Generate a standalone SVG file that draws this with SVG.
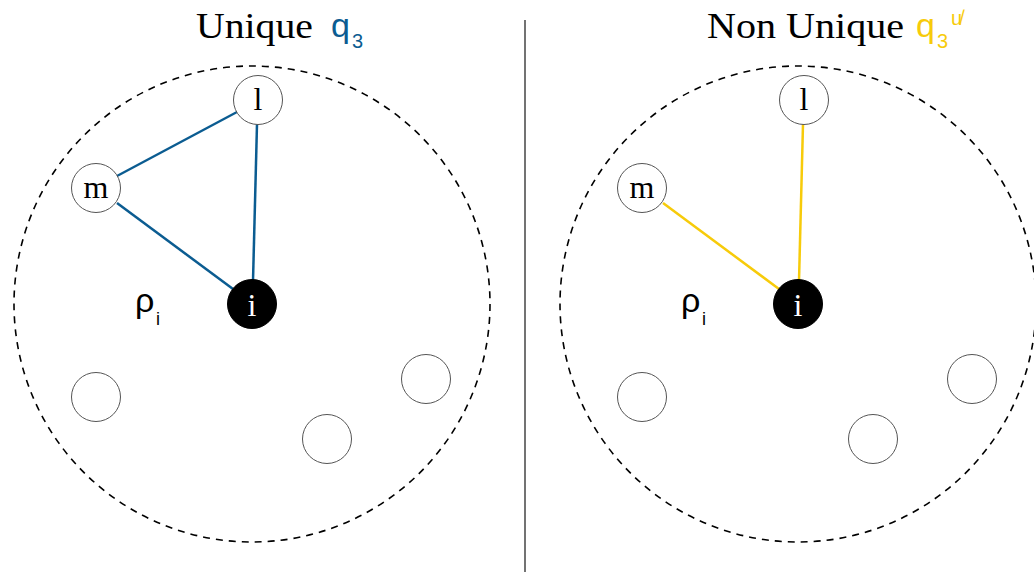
<svg xmlns="http://www.w3.org/2000/svg" width="1034" height="572" viewBox="0 0 1034 572">
<style>
.title{font-family:"Liberation Serif",serif;font-size:36px;fill:#000}
.q{font-family:"Liberation Sans",sans-serif;font-size:34px}
.sub{font-family:"Liberation Sans",sans-serif;font-size:20px}
.region{fill:none;stroke:#000;stroke-width:1.6;stroke-dasharray:7 6}
.node{fill:#fff;stroke:#555;stroke-width:1}
.dark{fill:#000;stroke:#000}
.lbl{font-family:"Liberation Serif",serif;font-size:32px;text-anchor:middle;fill:#000}
.lblw{font-family:"Liberation Serif",serif;font-size:32px;text-anchor:middle;fill:#fff}
.rho{font-family:"Liberation Sans",sans-serif;font-size:34px;fill:#000}
.rsub{font-family:"Liberation Sans",sans-serif;font-size:18px;fill:#000}
.blue{stroke:#0b5c91;stroke-width:2.5}
.yel{stroke:#f7cb0a;stroke-width:2.5}
</style>
<rect width="1034" height="572" fill="#fff"/>
<line x1="525" y1="20" x2="525" y2="572" stroke="#444" stroke-width="1.5"/>
<g id="titles">
<text class="title" x="196" y="38" textLength="117" lengthAdjust="spacingAndGlyphs">Unique</text>
<text class="q" x="331" y="37" fill="#0b5c91">q</text>
<text class="sub" x="352" y="48" fill="#0b5c91">3</text>
<text class="title" x="707" y="38" textLength="197" lengthAdjust="spacingAndGlyphs">Non Unique</text>
<text class="q" x="916" y="37" fill="#f7cb0a">q</text>
<text class="sub" x="937" y="48" fill="#f7cb0a">3</text>
<text class="sub" x="951" y="25" fill="#f7cb0a" font-size="16">u̸</text>
</g>
<g id="regions">
<circle class="region" cx="252" cy="304" r="238"/>
<circle class="region" cx="798" cy="304" r="238"/>
</g>
<g id="connectors">
<line class="blue" x1="117" y1="176" x2="237" y2="112"/>
<line class="blue" x1="117" y1="203" x2="233" y2="289"/>
<line class="blue" x1="257" y1="124" x2="253" y2="281"/>
<line class="yel" x1="663" y1="203" x2="779" y2="289"/>
<line class="yel" x1="803" y1="124" x2="799" y2="281"/>
</g>
<g id="left-l"><circle class="node" cx="258" cy="100" r="24.5"/><text class="lbl" x="258" y="110">l</text></g>
<g id="left-m"><circle class="node" cx="96" cy="188" r="24.5"/><text class="lbl" x="96" y="198">m</text></g>
<g id="left-i"><circle class="node dark" cx="252" cy="304" r="24.5"/><text class="lblw" x="252" y="316">i</text></g>
<g id="left-e1"><circle class="node" cx="96" cy="397" r="24.5"/></g>
<g id="left-e2"><circle class="node" cx="327" cy="439" r="24.5"/></g>
<g id="left-e3"><circle class="node" cx="426" cy="379" r="24.5"/></g>
<g id="left-rho"><text class="rho" x="135" y="312">ρ</text><text class="rsub" x="156" y="325">i</text></g>
<g id="right-l"><circle class="node" cx="804" cy="100" r="24.5"/><text class="lbl" x="804" y="110">l</text></g>
<g id="right-m"><circle class="node" cx="642" cy="188" r="24.5"/><text class="lbl" x="642" y="198">m</text></g>
<g id="right-i"><circle class="node dark" cx="798" cy="304" r="24.5"/><text class="lblw" x="798" y="316">i</text></g>
<g id="right-e1"><circle class="node" cx="642" cy="397" r="24.5"/></g>
<g id="right-e2"><circle class="node" cx="873" cy="439" r="24.5"/></g>
<g id="right-e3"><circle class="node" cx="972" cy="379" r="24.5"/></g>
<g id="right-rho"><text class="rho" x="681" y="312">ρ</text><text class="rsub" x="702" y="325">i</text></g>
</svg>
